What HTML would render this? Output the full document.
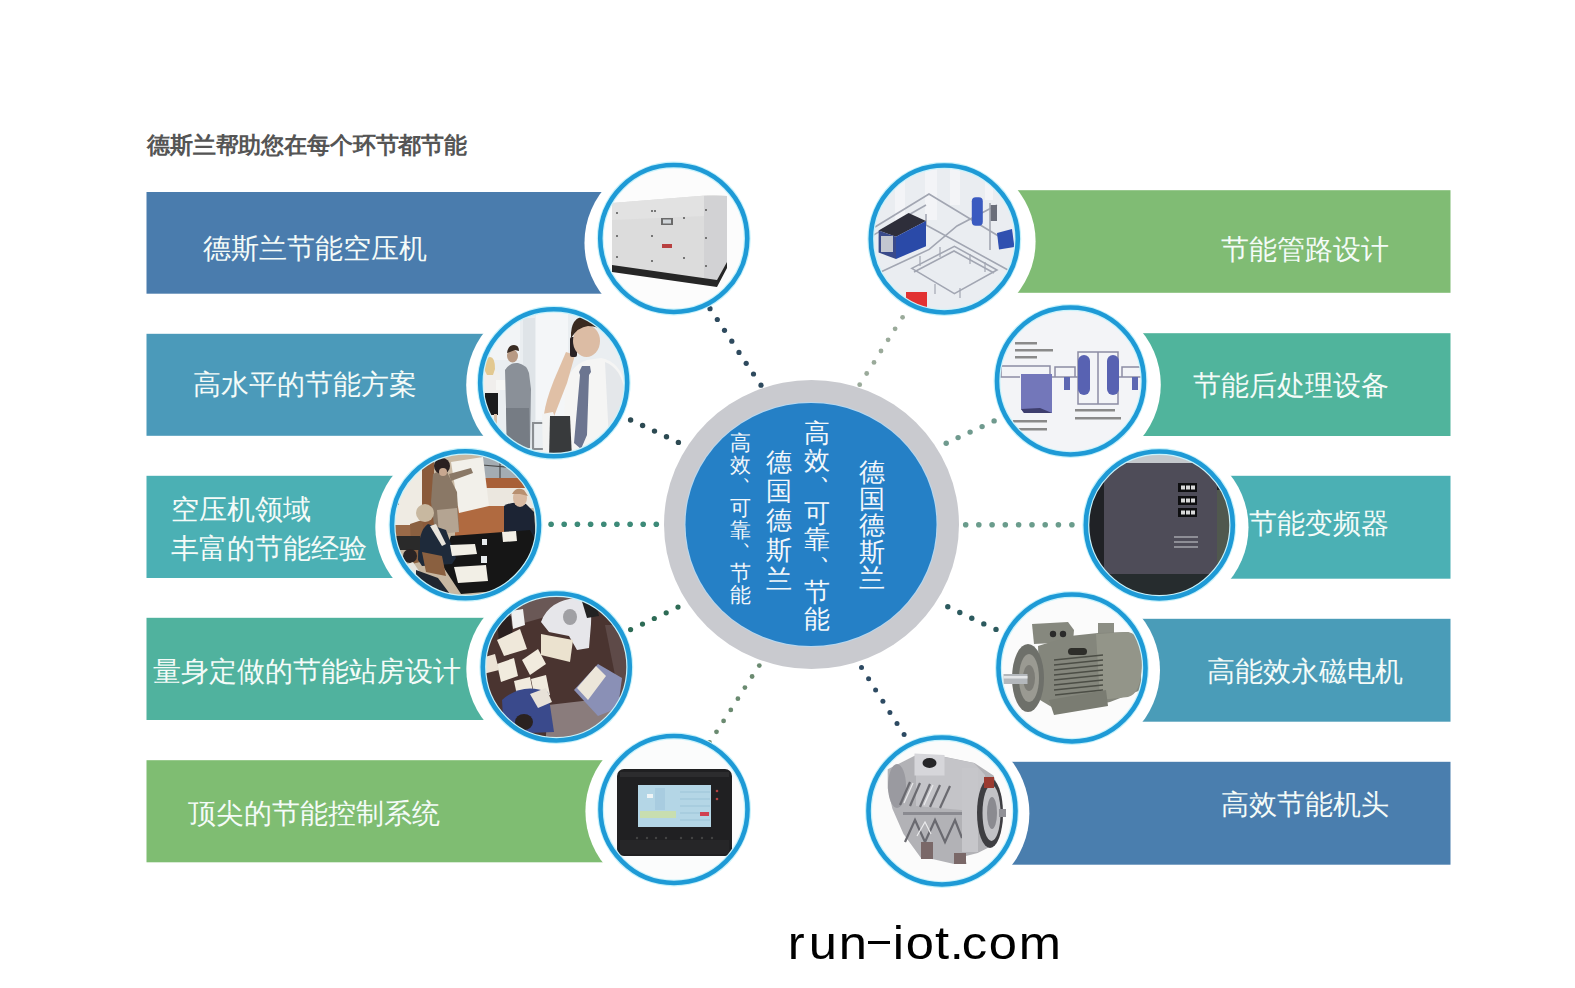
<!DOCTYPE html>
<html><head><meta charset="utf-8"><style>
html,body{margin:0;padding:0;background:#fff;width:1575px;height:988px;overflow:hidden}
body{position:relative;font-family:"Liberation Sans",sans-serif}
svg{position:absolute;left:0;top:0}
.t{position:absolute;white-space:nowrap;line-height:1}
.bt{position:absolute;white-space:nowrap;line-height:1;color:#f4fbf8}
.bt span,.tt span{display:inline-block;text-align:left}
.tt{position:absolute;white-space:nowrap;line-height:1}
.v{position:absolute;color:#f2f7fb;white-space:nowrap}
.v span{display:block;text-align:center}
.v i{font-style:normal}
</style></head><body>

<svg width="1575" height="988" viewBox="0 0 1575 988"><defs>
<clipPath id="cL0"><circle cx="673.75" cy="238.5" r="71.7"/></clipPath>
<clipPath id="cL1"><circle cx="553.7" cy="382.8" r="71.7"/></clipPath>
<clipPath id="cL2"><circle cx="465.5" cy="524.8" r="71.7"/></clipPath>
<clipPath id="cL3"><circle cx="556.3" cy="667" r="71.7"/></clipPath>
<clipPath id="cL4"><circle cx="674" cy="809.5" r="71.7"/></clipPath>
<clipPath id="cR0"><circle cx="944.3" cy="239" r="71.7"/></clipPath>
<clipPath id="cR1"><circle cx="1070.5" cy="381" r="71.7"/></clipPath>
<clipPath id="cR2"><circle cx="1159.3" cy="525" r="71.7"/></clipPath>
<clipPath id="cR3"><circle cx="1072" cy="668" r="71.7"/></clipPath>
<clipPath id="cR4"><circle cx="942" cy="811" r="71.7"/></clipPath>
</defs>
<rect x="146.5" y="192" width="527.25" height="101.7" fill="#4a7cad"/>
<rect x="146.5" y="333.8" width="407.20000000000005" height="102.0" fill="#4b9aba"/>
<rect x="146.5" y="475.8" width="319.0" height="102.2" fill="#4bb0b4"/>
<rect x="146.5" y="617.8" width="409.79999999999995" height="102.2" fill="#50b29e"/>
<rect x="146.5" y="760.2" width="527.5" height="102.1" fill="#7fbd72"/>
<rect x="944.3" y="190.2" width="506.2" height="102.6" fill="#80bc74"/>
<rect x="1070.5" y="333.2" width="380.0" height="102.8" fill="#50b49c"/>
<rect x="1159.3" y="475.8" width="291.2" height="102.9" fill="#4bb0b4"/>
<rect x="1072" y="618.8" width="378.5" height="102.9" fill="#4a9cb8"/>
<rect x="942" y="761.8" width="508.5" height="102.9" fill="#4a7eae"/>
<ellipse cx="673.75" cy="242.85" rx="89.3" ry="86.5" fill="#fff"/>
<ellipse cx="553.7" cy="384.80" rx="87.5" ry="86.5" fill="#fff"/>
<ellipse cx="465.5" cy="526.90" rx="90.2" ry="86.5" fill="#fff"/>
<ellipse cx="556.3" cy="668.90" rx="90" ry="86.5" fill="#fff"/>
<ellipse cx="674" cy="811.25" rx="88.6" ry="86.5" fill="#fff"/>
<ellipse cx="944.3" cy="241.50" rx="91.3" ry="86.5" fill="#fff"/>
<ellipse cx="1070.5" cy="384.60" rx="90.3" ry="86.5" fill="#fff"/>
<ellipse cx="1159.3" cy="527.25" rx="89.2" ry="86.5" fill="#fff"/>
<ellipse cx="1072" cy="670.25" rx="88" ry="86.5" fill="#fff"/>
<ellipse cx="942" cy="813.25" rx="87.4" ry="86.5" fill="#fff"/>
<ellipse cx="811.5" cy="524.5" rx="147.5" ry="144.5" fill="#c9cacf"/>
<ellipse cx="811" cy="524.5" rx="126.5" ry="122.5" fill="#b8d8f0"/>
<ellipse cx="811" cy="524.5" rx="125.5" ry="121.5" fill="#2580c6"/>
<circle cx="710.0" cy="308.7" r="2.6" fill="#2e4a5e"/>
<circle cx="717.3" cy="319.5" r="2.6" fill="#2e4a5e"/>
<circle cx="724.5" cy="330.3" r="2.6" fill="#2e4a5e"/>
<circle cx="731.8" cy="341.2" r="2.6" fill="#2e4a5e"/>
<circle cx="739" cy="352.4" r="2.6" fill="#2e4a5e"/>
<circle cx="746.2" cy="363.3" r="2.6" fill="#2e4a5e"/>
<circle cx="753.5" cy="374" r="2.6" fill="#2e4a5e"/>
<circle cx="761" cy="385.2" r="2.6" fill="#2e4a5e"/>
<circle cx="630.6" cy="420" r="2.7" fill="#2c4a52"/>
<circle cx="642.6" cy="425.5" r="2.7" fill="#2c4a52"/>
<circle cx="654.5" cy="431.1" r="2.7" fill="#2c4a52"/>
<circle cx="666.5" cy="436.8" r="2.7" fill="#2c4a52"/>
<circle cx="678.4" cy="442.4" r="2.7" fill="#2c4a52"/>
<circle cx="551.1" cy="524.3" r="2.8" fill="#3d8a78"/>
<circle cx="564.2" cy="524.3" r="2.8" fill="#3d8a78"/>
<circle cx="577.4" cy="524.3" r="2.8" fill="#3d8a78"/>
<circle cx="590.6" cy="524.3" r="2.8" fill="#3d8a78"/>
<circle cx="603.8" cy="524.3" r="2.8" fill="#3d8a78"/>
<circle cx="616.9" cy="524.3" r="2.8" fill="#3d8a78"/>
<circle cx="630.1" cy="524.3" r="2.8" fill="#3d8a78"/>
<circle cx="643.2" cy="524.3" r="2.8" fill="#3d8a78"/>
<circle cx="656.3" cy="524.3" r="2.8" fill="#3d8a78"/>
<circle cx="630.6" cy="629.6" r="2.6" fill="#2d6b55"/>
<circle cx="642.5" cy="624.1" r="2.6" fill="#2d6b55"/>
<circle cx="654.3" cy="618.5" r="2.6" fill="#2d6b55"/>
<circle cx="666.2" cy="612.8" r="2.6" fill="#2d6b55"/>
<circle cx="678" cy="607.1" r="2.6" fill="#2d6b55"/>
<circle cx="759.3" cy="665.6" r="2.4" fill="#6a8a70"/>
<circle cx="752.1" cy="676.5" r="2.4" fill="#6a8a70"/>
<circle cx="744.9" cy="687.6" r="2.4" fill="#6a8a70"/>
<circle cx="737.9" cy="698.7" r="2.4" fill="#6a8a70"/>
<circle cx="730.8" cy="709.9" r="2.4" fill="#6a8a70"/>
<circle cx="723.6" cy="720.9" r="2.4" fill="#6a8a70"/>
<circle cx="716.5" cy="731.8" r="2.4" fill="#6a8a70"/>
<circle cx="709.5" cy="742.5" r="2.4" fill="#6a8a70"/>
<circle cx="902.6" cy="317.3" r="2.4" fill="#9aaa9a"/>
<circle cx="895.1" cy="328.8" r="2.4" fill="#9aaa9a"/>
<circle cx="888.1" cy="339.8" r="2.4" fill="#9aaa9a"/>
<circle cx="881" cy="351" r="2.4" fill="#9aaa9a"/>
<circle cx="874" cy="362.4" r="2.4" fill="#9aaa9a"/>
<circle cx="866.7" cy="373.5" r="2.4" fill="#9aaa9a"/>
<circle cx="859.7" cy="384.7" r="2.4" fill="#9aaa9a"/>
<circle cx="946.2" cy="443.2" r="2.7" fill="#6f9a8e"/>
<circle cx="958.1" cy="437.6" r="2.7" fill="#6f9a8e"/>
<circle cx="970.1" cy="432.1" r="2.7" fill="#6f9a8e"/>
<circle cx="982.1" cy="426.6" r="2.7" fill="#6f9a8e"/>
<circle cx="994.1" cy="420.9" r="2.7" fill="#6f9a8e"/>
<circle cx="965.7" cy="524.7" r="2.8" fill="#6a9c8c"/>
<circle cx="978.8" cy="524.7" r="2.8" fill="#6a9c8c"/>
<circle cx="992.1" cy="524.7" r="2.8" fill="#6a9c8c"/>
<circle cx="1005.3" cy="524.7" r="2.8" fill="#6a9c8c"/>
<circle cx="1018.6" cy="524.7" r="2.8" fill="#6a9c8c"/>
<circle cx="1032" cy="524.7" r="2.8" fill="#6a9c8c"/>
<circle cx="1045.2" cy="524.7" r="2.8" fill="#6a9c8c"/>
<circle cx="1058.4" cy="524.7" r="2.8" fill="#6a9c8c"/>
<circle cx="1071.9" cy="524.7" r="2.8" fill="#6a9c8c"/>
<circle cx="947.8" cy="606.8" r="2.7" fill="#2c5a5e"/>
<circle cx="959.8" cy="612.5" r="2.7" fill="#2c5a5e"/>
<circle cx="971.8" cy="618.2" r="2.7" fill="#2c5a5e"/>
<circle cx="983.8" cy="623.9" r="2.7" fill="#2c5a5e"/>
<circle cx="996" cy="629.4" r="2.7" fill="#2c5a5e"/>
<circle cx="861.5" cy="667.6" r="2.5" fill="#2d4a62"/>
<circle cx="868.6" cy="678.7" r="2.5" fill="#2d4a62"/>
<circle cx="875.6" cy="690.1" r="2.5" fill="#2d4a62"/>
<circle cx="882.9" cy="701.2" r="2.5" fill="#2d4a62"/>
<circle cx="889.9" cy="712.6" r="2.5" fill="#2d4a62"/>
<circle cx="897" cy="723.5" r="2.5" fill="#2d4a62"/>
<circle cx="904.1" cy="734.6" r="2.5" fill="#2d4a62"/>
<g clip-path="url(#cL0)">
<rect x="590" y="150" width="170" height="180" fill="#fcfcfc"/>
<polygon points="612,203 712,195 727,196 727,262 717,282 612,266" fill="#dcdcdc"/>
<polygon points="612,203 712,195 727,196 727,215 612,220" fill="#e2e2e2"/>
<polygon points="704,196 727,196 727,262 717,282 704,278" fill="#d2d2d4"/>
<polygon points="612,265 717,280 727,262 727,268 717,287 612,272" fill="#262626"/>
<rect x="661" y="218" width="12" height="7" fill="#6a6a6a"/>
<rect x="663" y="219.5" width="8" height="4" fill="#cfd4d8"/>
<rect x="662" y="244" width="10" height="4" fill="#b84040"/>
<g fill="#555"><circle cx="617" cy="213" r="1"/><circle cx="652" cy="211" r="1"/><circle cx="655" cy="211" r="1"/><circle cx="684" cy="218" r="1"/><circle cx="706" cy="210" r="1"/><circle cx="617" cy="236" r="1"/><circle cx="652" cy="236" r="1"/><circle cx="706" cy="238" r="1"/><circle cx="617" cy="257" r="1"/><circle cx="652" cy="261" r="1"/><circle cx="684" cy="258" r="1"/><circle cx="706" cy="266" r="1"/></g>
</g>
<circle cx="673.75" cy="238.5" r="73.5" fill="none" stroke="#c8f2fb" stroke-width="7.0"/>
<circle cx="673.75" cy="238.5" r="73.5" fill="none" stroke="#1e9ad6" stroke-width="4.6"/>
<g clip-path="url(#cL1)">
<rect x="470" y="300" width="170" height="170" fill="#eaeef1"/>
<rect x="536" y="300" width="32" height="120" fill="#f4f6f8"/>
<rect x="490" y="300" width="30" height="60" fill="#f2f4f6"/>
<rect x="523" y="318" width="12" height="130" fill="#dfe4e8"/>
<rect x="533" y="423" width="20" height="26" fill="none" stroke="#8a8e92" stroke-width="2"/>
<path d="M483 372 q4 -8 10 -4 l7 6 l0 20 l-18 0 z" fill="#f0eeec"/>
<path d="M485 393 l13 0 l0 22 l-13 0 z" fill="#1a1a1c"/>
<rect x="488" y="414" width="3" height="12" fill="#d8c0a8"/><rect x="494" y="414" width="3" height="12" fill="#d8c0a8"/>
<path d="M485 371 q0 -14 5 -14 q5 0 5 12 l-2 6 l-6 0 z" fill="#e2c890"/>
<rect x="496" y="380" width="14" height="10" fill="#f6f6f4"/>
<path d="M505 370 q5 -8 13 -7 q9 2 11 10 l2 16 l-1 58 l-23 0 l-1 -40 z" fill="#8a9098"/>
<path d="M506 408 l23 0 l1 40 l-23 0 z" fill="#767c84"/>
<ellipse cx="512.5" cy="356" rx="5.5" ry="6.5" fill="#b89a84"/>
<path d="M507 353 q1 -8 7 -8 q5 0 5 6 l-4 -1 z" fill="#3a2c24"/>
<path d="M563 460 l2 -72 q4 -22 22 -28 l14 -2 q20 4 24 28 l3 74 z" fill="#f5f5f4"/>
<path d="M605 362 q16 6 20 30 l3 68 l-18 0 z" fill="#e4e7ea"/>
<path d="M582 366 l8 0 l1 6 l-2 3 l-2 60 l-6 14 l-7 -6 l6 -68 l-1 -3 z" fill="#6c7590"/>
<path d="M544 414 q2 -14 10 -34 l12 -28 l9 3 l-8 28 l-14 36 z" fill="#e0c0a6"/>
<path d="M542 414 l11 -2 l8 22 l-8 20 l-10 0 z" fill="#f3f3f2"/>
<rect x="570" y="337" width="7" height="20" rx="2" fill="#2a2224"/>
<ellipse cx="586.5" cy="341" rx="13.5" ry="16" fill="#dcbca4"/>
<path d="M571 338 q-1 -22 16 -22 q16 0 16 16 q-4 -6 -15 -6 q-10 1 -17 12 z" fill="#3a2a20"/>
<path d="M550 416 l20 0 l2 42 l-23 0 z" fill="#383a3c"/>
</g>
<circle cx="553.7" cy="382.8" r="73.5" fill="none" stroke="#c8f2fb" stroke-width="7.0"/>
<circle cx="553.7" cy="382.8" r="73.5" fill="none" stroke="#1e9ad6" stroke-width="4.6"/>
<g clip-path="url(#cL2)">
<rect x="385" y="445" width="160" height="160" fill="#c8b8a2"/>
<rect x="385" y="445" width="40" height="85" fill="#efebe3"/>
<rect x="385" y="525" width="40" height="14" fill="#9a6a48"/>
<rect x="393" y="495" width="6" height="10" fill="#8a6040"/>
<rect x="422" y="462" width="12" height="76" fill="#8a5a3a"/>
<rect x="480" y="450" width="60" height="30" fill="#a4acb2"/>
<g stroke="#4a4a4a" stroke-width="1.2"><path d="M482 465 L540 470"/><path d="M500 455 L500 480"/></g>
<rect x="484" y="478" width="56" height="11" fill="#a86038"/>
<rect x="486" y="488" width="50" height="20" fill="#ebe7df"/>
<rect x="455" y="506" width="60" height="32" fill="#b06a40"/>
<polygon points="451,462 483,457 489,506 459,513" fill="#f2f0ea"/>
<path d="M433 474 q6 -4 14 -2 l10 20 l2 38 l-24 2 l-4 -30 z" fill="#8a7866"/>
<path d="M437 510 l20 -2 l2 24 l-20 2 z" fill="#b4a492"/>
<path d="M449 474 l22 -6 l2 5 l-22 8 z" fill="#8a7866"/>
<ellipse cx="442" cy="466" rx="8" ry="8" fill="#2a2020"/>
<ellipse cx="443" cy="472" rx="4" ry="4" fill="#c8a890"/>
<path d="M504 506 q10 -6 22 -2 l8 8 l2 28 l-32 4 z" fill="#1c2434"/>
<ellipse cx="520" cy="498" rx="7" ry="9" fill="#d8baa2"/>
<path d="M512 494 q4 -8 12 -4 l4 6 l-8 -2 z" fill="#b89070"/>
<path d="M410 524 l12 -4 l6 40 l-16 4 z" fill="#8a6040"/>
<polygon points="451,536 530,530 537,543 508,590 461,594 440,562" fill="#161616"/>
<path d="M418 560 q0 -30 10 -36 l18 6 l10 28 l-4 6 l-30 2 z" fill="#1e2a3a"/>
<path d="M430 526 l6 -2 l10 20 l-4 2 z" fill="#e8e4dc"/>
<ellipse cx="425" cy="513" rx="9" ry="9" fill="#c8b8a0"/>
<polygon points="450,545 475,544 477,554 452,556" fill="#f2efe6"/>
<polygon points="502,532 516,531 517,541 503,542" fill="#f2efe6"/>
<polygon points="454,567 486,565 488,581 458,583" fill="#f2efe6"/>
<rect x="482" y="539" width="5" height="6" fill="#e8ecee"/><rect x="481" y="556" width="6" height="7" fill="#e8ecee"/>
<rect x="385" y="536" width="35" height="14" fill="#2a2a2a"/>
<ellipse cx="410" cy="556" rx="7" ry="7" fill="#2a2424"/>
<path d="M403 566 l10 -4 l12 18 l-6 6 z" fill="#e8e6e0"/>
<path d="M416 570 l22 8 l12 16 l-34 0 z" fill="#202630"/>
<path d="M422 552 l20 4 l4 20 l-20 -4 z" fill="#8a6040"/>
</g>
<circle cx="465.5" cy="524.8" r="73.5" fill="none" stroke="#c8f2fb" stroke-width="7.0"/>
<circle cx="465.5" cy="524.8" r="73.5" fill="none" stroke="#1e9ad6" stroke-width="4.6"/>
<g clip-path="url(#cL3)">
<rect x="475" y="585" width="160" height="165" fill="#4a3430"/>
<path d="M510 595 l70 0 l0 12 l-70 20 z" fill="#6a5856"/>
<polygon points="548,705 635,695 635,750 545,750" fill="#8a7c7c"/>
<path d="M605 625 l30 0 l0 70 l-16 0 z" fill="#5e4a48"/>
<path d="M541 622 q8 -22 36 -24 q16 2 14 26 l-2 24 l-12 2 l-8 -14 l-20 -4 z" fill="#e6e6ea"/>
<ellipse cx="570" cy="617" rx="7" ry="8" fill="#a0a0a4"/>
<path d="M581 598 l14 0 l4 18 l-12 2 z" fill="#222"/>
<path d="M511 611 l12 -2 l2 16 l-12 4 z" fill="#f0f0f0"/>
<path d="M497 620 l14 -4 l2 22 l-14 4 z" fill="#2a2020"/>
<polygon points="497,640 520,629 527,649 504,656" fill="#efe8da"/>
<polygon points="522,660 538,649 546,664 530,675" fill="#f1ebde"/>
<polygon points="541,634 573,640 570,662 541,655" fill="#ebe2cf"/>
<polygon points="497,664 514,658 518,676 501,682" fill="#f1ebde"/>
<polygon points="514,681 530,677 534,697 518,700" fill="#f1ebde"/>
<polygon points="531,679 546,675 550,695 535,699" fill="#f1ebde"/>
<path d="M574 690 l24 -26 l24 14 l-4 30 l-20 8 z" fill="#8a90b6"/>
<polygon points="577,688 596,666 606,676 588,700" fill="#ece6da"/>
<path d="M502 700 q20 -18 46 -8 l6 40 l-50 2 z" fill="#3a4a8c"/>
<path d="M530 694 l16 -6 l6 14 l-14 6 z" fill="#e8e2d8"/>
<ellipse cx="524" cy="722" rx="9" ry="8" fill="#2a2220"/>
<path d="M481 658 l14 -4 l4 16 l-16 4 z" fill="#ece2d4"/>
</g>
<circle cx="556.3" cy="667" r="73.5" fill="none" stroke="#c8f2fb" stroke-width="7.0"/>
<circle cx="556.3" cy="667" r="73.5" fill="none" stroke="#1e9ad6" stroke-width="4.6"/>
<g clip-path="url(#cL4)">
<rect x="595" y="730" width="160" height="160" fill="#fbfcfc"/>
<rect x="617" y="769" width="115" height="87" rx="7" fill="#202022"/>
<rect x="620" y="772" width="109" height="5" fill="#2c2c2e"/>
<rect x="620" y="840" width="109" height="14" fill="#262628"/>
<rect x="638" y="785" width="73" height="42" fill="#b4d6e6"/>
<rect x="640" y="811" width="36" height="7" fill="#c8deb0"/>
<rect x="647" y="794" width="6" height="4" fill="#eef4f6"/>
<rect x="655" y="788" width="10" height="22" fill="#a8cce0"/>
<g stroke="#98c0d4" stroke-width="0.8"><path d="M680 792 L710 792"/><path d="M680 799 L710 799"/><path d="M680 806 L710 806"/><path d="M680 813 L710 813"/><path d="M680 820 L710 820"/></g>
<rect x="700" y="812" width="9" height="4" fill="#d04050"/>
<g fill="#b04040"><circle cx="717" cy="791" r="1.3"/><circle cx="717" cy="799" r="1.3"/></g>
<g fill="#444"><circle cx="637" cy="838" r="1.2"/><circle cx="647" cy="838" r="1.2"/><circle cx="656" cy="838" r="1.2"/><circle cx="666" cy="838" r="1.2"/><circle cx="681" cy="838" r="1.2"/><circle cx="692" cy="838" r="1.2"/><circle cx="702" cy="838" r="1.2"/><circle cx="712" cy="838" r="1.2"/></g>
</g>
<circle cx="674" cy="809.5" r="73.5" fill="none" stroke="#c8f2fb" stroke-width="7.0"/>
<circle cx="674" cy="809.5" r="73.5" fill="none" stroke="#1e9ad6" stroke-width="4.6"/>
<g clip-path="url(#cR0)">
<rect x="865" y="160" width="160" height="160" fill="#eaedf1"/>
<g fill="#f3f4f7"><rect x="895" y="165" width="10" height="60"/><rect x="925" y="165" width="12" height="55"/><rect x="950" y="165" width="10" height="40"/><rect x="985" y="170" width="8" height="30"/></g>
<g stroke="#a2a6b2" stroke-width="1.6" fill="none">
<path d="M875 227 L929 194 L1010 243"/>
<path d="M870 237 L926 205"/>
<path d="M926 214 L926 225 L1008 270"/>
<path d="M911.8 268.4 L954.4 246.3 L997 270 L954.4 293.6 Z"/>
<path d="M914 272 L954 251 L994 273"/>
<path d="M881.8 271.5 L929.2 249.4 L957 226 L997 205"/>
<path d="M880 288 L920 310"/>
<path d="M990 203 L990 250"/>
</g>
<g stroke="#a2a6b2" stroke-width="1.2"><path d="M920 256 L920 266"/><path d="M940 247 L940 257"/><path d="M970 254 L970 264"/><path d="M985 262 L985 272"/><path d="M935 284 L935 294"/><path d="M960 288 L960 298"/></g>
<polygon points="878.6,230.5 908.6,213.1 926,221 896,236.8" fill="#2e2e3a"/>
<polygon points="878.6,230.5 896,236.8 896,258.9 878.6,252.6" fill="#3a4a8a"/>
<rect x="881" y="236" width="12" height="16" fill="#c2c6d0"/>
<polygon points="896,236.8 926,221 926,246.3 896,258.9" fill="#2a4aa8"/>
<rect x="971.8" y="197.3" width="11" height="28.4" rx="4" fill="#3a5ac0"/>
<rect x="990.7" y="205" width="6.3" height="16" fill="#6a6e7a"/>
<polygon points="997,233 1012,229 1014.4,247 999,249.4" fill="#3050b0"/>
<rect x="906" y="292" width="21" height="16" fill="#e23232"/>
</g>
<circle cx="944.3" cy="239" r="73.5" fill="none" stroke="#c8f2fb" stroke-width="7.0"/>
<circle cx="944.3" cy="239" r="73.5" fill="none" stroke="#1e9ad6" stroke-width="4.6"/>
<g clip-path="url(#cR1)">
<rect x="990" y="300" width="165" height="160" fill="#f3f4f7"/>
<g stroke="#8c8ca4" stroke-width="1.5" fill="none">
<path d="M1001 377 L1001 366 L1050 366 L1050 377"/>
<path d="M1055 377 L1055 367 L1075 367 L1075 377"/>
<path d="M1078 352 L1118 352 L1118 404 L1078 404 Z"/>
<path d="M1098 352 L1098 404"/>
<path d="M1122 377 L1122 367 L1150 367"/>
<path d="M995 377 L1020 377"/><path d="M1050 377 L1078 377"/><path d="M1118 377 L1150 377"/>
</g>
<polygon points="1021,374 1052,374 1052,413 1024,413 1021,409" fill="#7377ba"/>
<polygon points="1021,409 1024,413 1052,413 1040,408" fill="#3e3e6e"/>
<rect x="1064" y="377" width="6" height="13" fill="#5e68b2"/>
<rect x="1078" y="355" width="12" height="40" rx="6" fill="#5862b2"/>
<rect x="1107" y="355" width="12" height="40" rx="6" fill="#5862b2"/>
<rect x="1132" y="377" width="6" height="13" fill="#5e68b2"/>
<g fill="#8a8a8a"><rect x="1015" y="342" width="22" height="2.5"/><rect x="1015" y="349" width="38" height="2.5"/><rect x="1015" y="356" width="22" height="2.5"/>
<rect x="1013" y="420" width="34" height="2.5"/><rect x="1013" y="428" width="34" height="2.5"/>
<rect x="1075" y="409" width="40" height="2.5"/><rect x="1075" y="417" width="46" height="2.5"/></g>
</g>
<circle cx="1070.5" cy="381" r="73.5" fill="none" stroke="#c8f2fb" stroke-width="7.0"/>
<circle cx="1070.5" cy="381" r="73.5" fill="none" stroke="#1e9ad6" stroke-width="4.6"/>
<g clip-path="url(#cR2)">
<rect x="1080" y="445" width="160" height="160" fill="#202226"/>
<rect x="1125" y="452" width="70" height="12" fill="#c4c8cc"/>
<rect x="1104" y="463" width="113" height="113" fill="#4e4c58"/>
<rect x="1217" y="490" width="20" height="90" fill="#50584e"/>
<rect x="1178" y="483" width="19" height="9" fill="#0e0e10"/>
<rect x="1178" y="496" width="19" height="9" fill="#0e0e10"/>
<rect x="1178" y="508" width="19" height="9" fill="#0e0e10"/>
<g fill="#d8d8d8"><rect x="1181" y="485.5" width="4" height="4"/><rect x="1186" y="485.5" width="4" height="4"/><rect x="1191" y="485.5" width="4" height="4"/>
<rect x="1181" y="498.5" width="4" height="4"/><rect x="1186" y="498.5" width="4" height="4"/><rect x="1191" y="498.5" width="4" height="4"/>
<rect x="1181" y="510.5" width="4" height="4"/><rect x="1186" y="510.5" width="4" height="4"/><rect x="1191" y="510.5" width="4" height="4"/></g>
<g fill="#8e8e96"><rect x="1174" y="536" width="24" height="2"/><rect x="1174" y="541" width="24" height="2"/><rect x="1174" y="546" width="24" height="2"/></g>
<rect x="1080" y="574" width="160" height="31" fill="#262c2e"/>
</g>
<circle cx="1159.3" cy="525" r="73.5" fill="none" stroke="#c8f2fb" stroke-width="7.0"/>
<circle cx="1159.3" cy="525" r="73.5" fill="none" stroke="#1e9ad6" stroke-width="4.6"/>
<g clip-path="url(#cR3)">
<rect x="990" y="585" width="165" height="165" fill="#fbfbfb"/>
<polygon points="1032,624 1068,622 1074,630 1073,642 1034,644" fill="#86887e"/>
<circle cx="1053" cy="634" r="3.2" fill="#2a2a2a"/><circle cx="1063" cy="634" r="3.2" fill="#2a2a2a"/>
<rect x="1098" y="623" width="16" height="13" fill="#8c8e84"/>
<polygon points="1038,646 1070,636 1098,633 1128,632 1141,640 1141,690 1110,702 1060,712 1040,700" fill="#84867c"/>
<path d="M1096 634 L1128 632 Q1143 634 1142 665 Q1141 694 1128 697 L1100 700 Z" fill="#939589"/>
<g stroke="#4c4e46" stroke-width="1.5"><path d="M1054 660 L1103 655"/><path d="M1054 665 L1103 660"/><path d="M1054 670 L1103 665"/><path d="M1054 675 L1103 670"/><path d="M1054 680 L1103 675"/><path d="M1054 685 L1103 680"/><path d="M1054 690 L1103 685"/><path d="M1055 695 L1103 690"/></g>
<rect x="1068" y="648" width="19" height="7" rx="3.5" fill="#2e2e2a"/>
<ellipse cx="1028" cy="678" rx="16" ry="34" fill="#6e706a"/>
<ellipse cx="1029" cy="678" rx="10" ry="24" fill="#9a9a92"/>
<ellipse cx="1029" cy="678" rx="6" ry="13" fill="#7c7c76"/>
<rect x="1003.5" y="674" width="24" height="10" fill="#b4b8bc"/>
<rect x="1003.5" y="676" width="24" height="2.5" fill="#e4e6e8"/>
<polygon points="1049,700 1106,690 1108,706 1054,715" fill="#7a7c72"/>
</g>
<circle cx="1072" cy="668" r="73.5" fill="none" stroke="#c8f2fb" stroke-width="7.0"/>
<circle cx="1072" cy="668" r="73.5" fill="none" stroke="#1e9ad6" stroke-width="4.6"/>
<g clip-path="url(#cR4)">
<rect x="860" y="730" width="165" height="165" fill="#fbfbfb"/>
<polygon points="887.7,769.3 916.1,755.1 944.5,756.7 974.5,763 993.5,775.6 1001.4,796.2 1003,821.4 996.6,843.5 977.7,853 965,856.2 966.6,864 954,864 933.5,859.3 920.8,857.7 903.5,834 892.4,808.8 887.7,788.3" fill="#b2b2b6"/>
<polygon points="916,762 944,757 974,763 985,775 984,812 916,806" fill="#c4c4c8"/>
<polygon points="914.5,753.5 944.5,755 944.5,775.6 914.5,775.6" fill="#d6d6da"/>
<ellipse cx="929.5" cy="763" rx="7" ry="5" fill="#262628"/>
<ellipse cx="897" cy="786" rx="9" ry="22" fill="#9a9aa0"/>
<g stroke="#6a6a70" stroke-width="2.2" fill="none">
<path d="M900 805 L910 782"/><path d="M910 806 L920 783"/><path d="M920 807 L930 784"/><path d="M930 807 L940 785"/><path d="M940 808 L950 786"/>
<path d="M905 842 L915 820 L925 842 L935 820 L945 842 L955 820 L962 838"/>
</g>
<g stroke="#eaeaec" stroke-width="1.2" fill="none"><path d="M904 803 L913 783"/><path d="M924 805 L933 785"/><path d="M917 836 L925 822 L931 834"/></g>
<rect x="903" y="812" width="62" height="3" fill="#8a8a90"/>
<rect x="962" y="768" width="16" height="84" fill="#c6c6ca"/>
<ellipse cx="990" cy="813" rx="13" ry="35" fill="#3e3e42"/>
<ellipse cx="991.5" cy="813" rx="9" ry="28" fill="#c2c2c6"/>
<ellipse cx="992" cy="813" rx="5" ry="16" fill="#8a8a90"/>
<rect x="999" y="809" width="7" height="8" fill="#909096"/>
<rect x="984" y="777" width="10" height="11" fill="#9a3a30"/>
<rect x="921" y="842" width="12" height="17" fill="#7a6868"/>
<rect x="954" y="853" width="12" height="11" fill="#7a6868"/>
</g>
<circle cx="942" cy="811" r="73.5" fill="none" stroke="#c8f2fb" stroke-width="7.0"/>
<circle cx="942" cy="811" r="73.5" fill="none" stroke="#1e9ad6" stroke-width="4.6"/>
</svg>
<div class="tt" style="left:147px;top:134px;font-size:23px;font-weight:bold;color:#555"><span style="width:22.86px">德</span><span style="width:22.86px">斯</span><span style="width:22.86px">兰</span><span style="width:22.86px">帮</span><span style="width:22.86px">助</span><span style="width:22.86px">您</span><span style="width:22.86px">在</span><span style="width:22.86px">每</span><span style="width:22.86px">个</span><span style="width:22.86px">环</span><span style="width:22.86px">节</span><span style="width:22.86px">都</span><span style="width:22.86px">节</span><span style="width:22.86px">能</span></div>
<div class="bt" style="left:203px;top:235px;font-size:28px"><span style="width:28.05px">德</span><span style="width:28.05px">斯</span><span style="width:28.05px">兰</span><span style="width:28.05px">节</span><span style="width:28.05px">能</span><span style="width:28.05px">空</span><span style="width:28.05px">压</span><span style="width:28.05px">机</span></div>
<div class="bt" style="left:193px;top:371px;font-size:28px"><span style="width:28.05px">高</span><span style="width:28.05px">水</span><span style="width:28.05px">平</span><span style="width:28.05px">的</span><span style="width:28.05px">节</span><span style="width:28.05px">能</span><span style="width:28.05px">方</span><span style="width:28.05px">案</span></div>
<div class="bt" style="left:153px;top:657.5px;font-size:28px"><span style="width:28.05px">量</span><span style="width:28.05px">身</span><span style="width:28.05px">定</span><span style="width:28.05px">做</span><span style="width:28.05px">的</span><span style="width:28.05px">节</span><span style="width:28.05px">能</span><span style="width:28.05px">站</span><span style="width:28.05px">房</span><span style="width:28.05px">设</span><span style="width:28.05px">计</span></div>
<div class="bt" style="left:188px;top:800px;font-size:28px"><span style="width:28.05px">顶</span><span style="width:28.05px">尖</span><span style="width:28.05px">的</span><span style="width:28.05px">节</span><span style="width:28.05px">能</span><span style="width:28.05px">控</span><span style="width:28.05px">制</span><span style="width:28.05px">系</span><span style="width:28.05px">统</span></div>
<div class="bt" style="left:171px;top:496px;font-size:28px"><span style="width:28.05px">空</span><span style="width:28.05px">压</span><span style="width:28.05px">机</span><span style="width:28.05px">领</span><span style="width:28.05px">域</span></div>
<div class="bt" style="left:171px;top:535px;font-size:28px"><span style="width:28.05px">丰</span><span style="width:28.05px">富</span><span style="width:28.05px">的</span><span style="width:28.05px">节</span><span style="width:28.05px">能</span><span style="width:28.05px">经</span><span style="width:28.05px">验</span></div>
<div class="bt" style="left:1221px;top:236px;font-size:28px"><span style="width:28.05px">节</span><span style="width:28.05px">能</span><span style="width:28.05px">管</span><span style="width:28.05px">路</span><span style="width:28.05px">设</span><span style="width:28.05px">计</span></div>
<div class="bt" style="left:1193px;top:372px;font-size:28px"><span style="width:28.05px">节</span><span style="width:28.05px">能</span><span style="width:28.05px">后</span><span style="width:28.05px">处</span><span style="width:28.05px">理</span><span style="width:28.05px">设</span><span style="width:28.05px">备</span></div>
<div class="bt" style="left:1249px;top:510px;font-size:28px"><span style="width:28.05px">节</span><span style="width:28.05px">能</span><span style="width:28.05px">变</span><span style="width:28.05px">频</span><span style="width:28.05px">器</span></div>
<div class="bt" style="left:1207px;top:658px;font-size:28px"><span style="width:28.05px">高</span><span style="width:28.05px">能</span><span style="width:28.05px">效</span><span style="width:28.05px">永</span><span style="width:28.05px">磁</span><span style="width:28.05px">电</span><span style="width:28.05px">机</span></div>
<div class="bt" style="left:1221px;top:791px;font-size:28px"><span style="width:28.05px">高</span><span style="width:28.05px">效</span><span style="width:28.05px">节</span><span style="width:28.05px">能</span><span style="width:28.05px">机</span><span style="width:28.05px">头</span></div>
<div class="v" style="left:730px;top:432px;font-size:21px;line-height:21.7px;width:21.7px"><span style="height:21.7px">高</span><span style="height:21.7px">效</span><span style="height:21.7px"><i style="display:inline-block;transform:translate(11.6px,-13.0px)">、</i></span><span style="height:21.7px">可</span><span style="height:21.7px">靠</span><span style="height:21.7px"><i style="display:inline-block;transform:translate(11.6px,-13.0px)">、</i></span><span style="height:21.7px">节</span><span style="height:21.7px">能</span></div>
<div class="v" style="left:764px;top:448px;font-size:26px;line-height:29.2px;width:29.2px"><span style="height:29.2px">德</span><span style="height:29.2px">国</span><span style="height:29.2px">德</span><span style="height:29.2px">斯</span><span style="height:29.2px">兰</span></div>
<div class="v" style="left:804px;top:420px;font-size:26px;line-height:26.56px;width:26.56px"><span style="height:26.56px">高</span><span style="height:26.56px">效</span><span style="height:26.56px"><i style="display:inline-block;transform:translate(14.3px,-16.1px)">、</i></span><span style="height:26.56px">可</span><span style="height:26.56px">靠</span><span style="height:26.56px"><i style="display:inline-block;transform:translate(14.3px,-16.1px)">、</i></span><span style="height:26.56px">节</span><span style="height:26.56px">能</span></div>
<div class="v" style="left:859px;top:459px;font-size:26px;line-height:26.6px;width:26.6px"><span style="height:26.6px">德</span><span style="height:26.6px">国</span><span style="height:26.6px">德</span><span style="height:26.6px">斯</span><span style="height:26.6px">兰</span></div>
<div style="position:absolute;left:0;top:920px;width:1575px;height:50px;font-size:46.5px;line-height:46.5px;color:#000;white-space:nowrap"><span style="position:absolute;left:788.20px;top:0;transform:scaleX(1.09);transform-origin:2.90px 0">r</span><span style="position:absolute;left:808.55px;top:0;transform:scaleX(1.09);transform-origin:2.55px 0">u</span><span style="position:absolute;left:838.66px;top:0;transform:scaleX(1.09);transform-origin:2.64px 0">n</span><span style="position:absolute;left:893.36px;top:0;transform:scaleX(1.09);transform-origin:2.64px 0">i</span><span style="position:absolute;left:906.33px;top:0;transform:scaleX(1.09);transform-origin:1.57px 0">o</span><span style="position:absolute;left:935.41px;top:0;transform:scaleX(1.09);transform-origin:0.69px 0">t</span><span style="position:absolute;left:950.18px;top:0;transform:scaleX(1.09);transform-origin:3.82px 0">.</span><span style="position:absolute;left:962.25px;top:0;transform:scaleX(1.09);transform-origin:2.15px 0">c</span><span style="position:absolute;left:988.74px;top:0;transform:scaleX(1.09);transform-origin:1.86px 0">o</span><span style="position:absolute;left:1018.66px;top:0;transform:scaleX(1.09);transform-origin:2.84px 0">m</span></div>
<div style="position:absolute;left:868px;top:940.5px;width:22.2px;height:3.6px;background:#000"></div>
</body></html>
